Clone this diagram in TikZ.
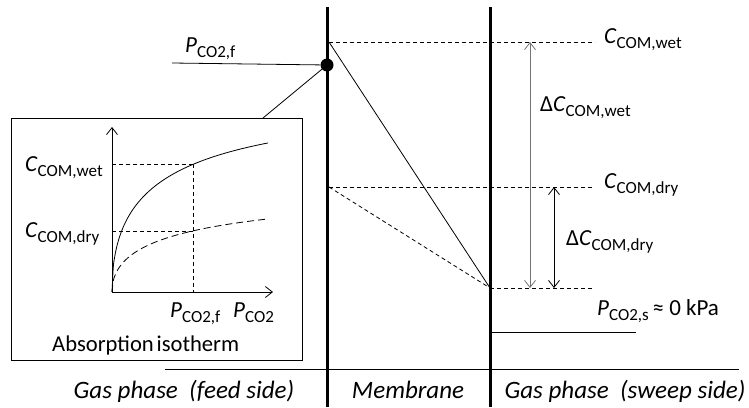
\documentclass[tikz,border=0pt]{standalone}
\usepackage{fontspec}
\setmainfont{Carlito}
\usetikzlibrary{arrows.meta}
\newcommand{\symb}[2]{\textit{#1}\raisebox{-0.22em}{\fontsize{17}{17}\selectfont #2}}
\begin{document}
\begin{tikzpicture}[x=1pt,y=-1pt,
  thinline/.style={line width=0.8pt},
  membline/.style={line width=3pt},
  dashline/.style={line width=0.8pt, dash pattern=on 4pt off 3pt},
  barbs/.style={line width=0.8pt, arrows={Straight Barb[length=7pt,width=11pt]-Straight Barb[length=7pt,width=11pt]}},
  axisarrow/.style={line width=0.8pt, arrows={-Straight Barb[length=7pt,width=11pt]}},
  lbl/.style={font=\fontsize{23}{27}\selectfont, inner sep=0pt, anchor=base west},
  bottomlbl/.style={font=\fontsize{25}{29}\selectfont\itshape, inner sep=0pt, anchor=base}]
\useasboundingbox (0,0) rectangle (749,407);
% membrane walls
\coordinate (m1t) at (327,7);   \coordinate (m1b) at (327,407);
\coordinate (m2t) at (490,7);   \coordinate (m2b) at (490,407);
\draw[membline] (m1t) -- (m1b);
\draw[membline] (m2t) -- (m2b);
% levels
\coordinate (wetL) at (329,42);  \coordinate (wetR) at (595,42);
\coordinate (dryL) at (329,187); \coordinate (dryR) at (592,187);
\coordinate (lowL) at (490,288); \coordinate (lowR) at (592,288);
\draw[dashline] (wetL) -- (wetR);
\draw[dashline] (dryL) -- (dryR);
\draw[dashline] (lowL) -- (lowR);
\draw[thinline] (wetL) -- (lowL);
\draw[dashline] (dryL) -- (lowL);
% delta arrows
\coordinate (awt) at (530,42); \coordinate (awb) at (530,288);
\coordinate (adt) at (554,187); \coordinate (adb) at (554,288);
\draw[barbs, draw=black!55] (awt) -- (awb);
\draw[barbs] (adt) -- (adb);
% labels right
\node[lbl] (lwet) at (604,43) {\symb{C}{COM,wet}};
\node[lbl] (ldry) at (604,188) {\symb{C}{COM,dry}};
\node[lbl] (ldwet) at (540,111) {Δ\symb{C}{COM,wet}};
\node[lbl] (lddry) at (566,245) {Δ\symb{C}{COM,dry}};
% feed pressure
\node[circle, fill=black, inner sep=0pt, minimum size=13pt] (dot) at (327,65) {};
\coordinate (pfl) at (172,63);
\draw[thinline] (pfl) -- (dot);
\node[lbl] (lpf) at (185,52) {\symb{P}{CO2,f}};
% sweep pressure
\coordinate (psl) at (491,332); \coordinate (psr) at (636,332);
\draw[thinline] (psl) -- (psr);
\node[lbl] (lps) at (597,315) {\symb{P}{CO2,s}\,≈ 0 kPa};
% inset
\node[draw, thinline, minimum width=291pt, minimum height=242pt, inner sep=0pt, anchor=north west] (box) at (11,118) {};
\coordinate (boxhook) at (263,118);
\draw[thinline] (dot) -- (boxhook);
\coordinate (org) at (112,292);
\coordinate (ytop) at (112,127);
\coordinate (xend) at (273,292);
\draw[axisarrow] (org) -- (ytop);
\draw[axisarrow] (org) -- (xend);
\coordinate (pw) at (193,164); \coordinate (pd) at (193,231);
\coordinate (yw) at (112,164); \coordinate (yd) at (112,231);
\coordinate (px) at (193,292);
\draw[dashline] (yw) -- (pw);
\draw[dashline] (yd) -- (pd);
\draw[dashline] (pw) -- (px);
\draw[thinline] plot[domain=0:156, samples=120, smooth] ({112+\x},{292-187.4*(1-exp(-0.127*sqrt(\x)))});
\draw[line width=0.8pt, dash pattern=on 7pt off 4pt] plot[domain=0:156, samples=120, smooth] ({112+\x},{292-100*(1-exp(-0.105*sqrt(\x)))});
\node[lbl] (iwet) at (25,171) {\symb{C}{COM,wet}};
\node[lbl] (idry) at (25,237) {\symb{C}{COM,dry}};
\node[lbl] (ipf) at (170,317) {\symb{P}{CO2,f}};
\node[lbl] (ip) at (233,317) {\symb{P}{CO2}};
\node[inner sep=0pt, anchor=base west, font=\fontsize{22.6}{27}\selectfont] (iso) at (52,351) {Absorption\hspace{-0.1em} isotherm};
% bottom
\coordinate (bl) at (165,369); \coordinate (br) at (739,369);
\draw[thinline] (bl) -- (br);
\node[bottomlbl] (gfeed) at (184,398) {Gas phase\ \ (feed side)};
\node[bottomlbl] (gmem) at (408,398) {Membrane};
\node[bottomlbl] (gsweep) at (625,398) {Gas phase\ \ (sweep side)};
\end{tikzpicture}
\end{document}
